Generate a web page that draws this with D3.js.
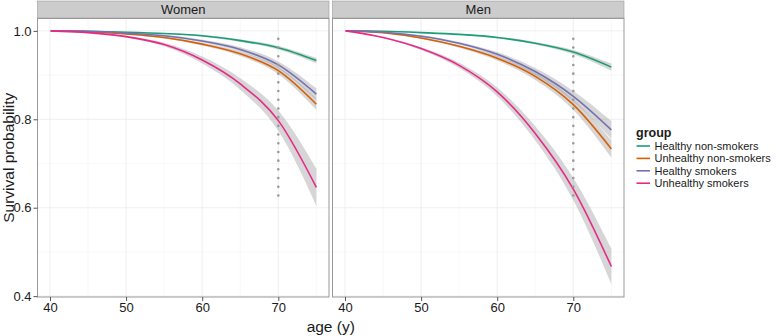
<!DOCTYPE html>
<html>
<head>
<meta charset="utf-8">
<script src="https://cdn.jsdelivr.net/npm/d3@7"></script>
<style>
  body { margin: 0; background: #fff; }
  text { font-family: "Liberation Sans", Arial, sans-serif; }
</style>
</head>
<body>
<div id="chart"></div>
<script>
const ages = [40.1, 45, 50, 55, 60, 65, 70, 75]

const groups = ['Healthy non-smokers', 'Unhealthy non-smokers', 'Healthy smokers', 'Unhealthy smokers']
const groupColors = ['#1b9e77', '#d95f02', '#7570b3', '#e7298a']
const panels = ['Women', 'Men']

// survival probability, one array per panel and group
const womenHealthyNon = [1, 0.999, 0.997, 0.994, 0.989, 0.978, 0.962, 0.933]
const womenUnhealthyNon = [1, 0.998, 0.993, 0.985, 0.970, 0.948, 0.910, 0.834]
const womenHealthySmk = [1, 0.999, 0.995, 0.989, 0.977, 0.958, 0.923, 0.857]
const womenUnhealthySmk = [1, 0.996, 0.987, 0.969, 0.934, 0.880, 0.797, 0.646]

const menHealthyNon = [1, 0.999, 0.996, 0.992, 0.985, 0.972, 0.952, 0.918]
const menUnhealthyNon = [1, 0.996, 0.984, 0.965, 0.938, 0.897, 0.833, 0.733]
const menHealthySmk = [1, 0.997, 0.988, 0.972, 0.947, 0.908, 0.852, 0.776]
const menUnhealthySmk = [1, 0.985, 0.960, 0.922, 0.862, 0.768, 0.642, 0.467]

// half width of the confidence band
const womenBand = [
  [0, 0, 0.001, 0.001, 0.002, 0.003, 0.004, 0.006],
  [0, 0, 0.001, 0.002, 0.003, 0.005, 0.008, 0.013],
  [0, 0, 0.001, 0.002, 0.003, 0.005, 0.008, 0.013],
  [0, 0.001, 0.002, 0.004, 0.008, 0.013, 0.023, 0.042]
]
const menBand = [
  [0, 0, 0.001, 0.001, 0.002, 0.003, 0.005, 0.008],
  [0, 0.001, 0.002, 0.003, 0.005, 0.008, 0.012, 0.02],
  [0, 0.001, 0.002, 0.003, 0.005, 0.008, 0.012, 0.02],
  [0, 0.001, 0.003, 0.006, 0.01, 0.016, 0.025, 0.04]
]

// reference line at age 70
const refAge = 70
const refRange = [0.621, 0.982]

const xTicks = [40, 50, 60, 70]
const xMinor = [45, 55, 65, 75]
const yTicks = [0.4, 0.6, 0.8, 1.0]
const yMinor = [0.5, 0.7, 0.9]

const panelData = [
  { name: panels[0], values: [womenHealthyNon, womenUnhealthyNon, womenHealthySmk, womenUnhealthySmk], band: womenBand },
  { name: panels[1], values: [menHealthyNon, menUnhealthyNon, menHealthySmk, menUnhealthySmk], band: menBand }
]

const width = 778
const height = 336
const stripH = 17
const pTop = 18.5
const pBottom = 297
const pw = 291.5
const panelX = [37.5, 332.5]

const svg = d3.select('#chart').append('svg')
  .attr('width', width).attr('height', height)

const x = d3.scaleLinear().domain([38.36, 76.66]).range([0, pw])
const y = d3.scaleLinear().domain([0.398, 1.028]).range([pBottom, pTop])

const line = d3.line().curve(d3.curveMonotoneX)
  .x(d => x(d[0])).y(d => y(d[1]))
const area = d3.area().curve(d3.curveMonotoneX)
  .x(d => x(d[0])).y0(d => y(d[1] - d[2])).y1(d => y(d[1] + d[2]))

svg.append('defs').append('clipPath').attr('id', 'clip')
  .append('rect').attr('x', 0).attr('y', pTop).attr('width', pw).attr('height', pBottom - pTop)

panelData.forEach(function (p, pi) {
  const g = svg.append('g').attr('transform', 'translate(' + panelX[pi] + ',0)')

  // strip
  g.append('rect').attr('x', 0).attr('y', pTop - stripH - 0.5).attr('width', pw).attr('height', stripH)
    .attr('fill', '#cccccc').attr('stroke', '#999').attr('stroke-width', 0.6)
  g.append('text').attr('x', pw / 2).attr('y', pTop - stripH / 2 + 4)
    .attr('text-anchor', 'middle').attr('font-size', 13).attr('fill', '#1a1a1a')
    .text(p.name)

  // background + grid
  g.append('rect').attr('x', 0).attr('y', pTop).attr('width', pw).attr('height', pBottom - pTop).attr('fill', '#fff')
  g.selectAll('.xminor').data(xMinor).enter().append('line')
    .attr('x1', d => x(d)).attr('x2', d => x(d)).attr('y1', pTop).attr('y2', pBottom)
    .attr('stroke', '#f4f4f4').attr('stroke-width', 0.6)
  g.selectAll('.yminor').data(yMinor).enter().append('line')
    .attr('y1', d => y(d)).attr('y2', d => y(d)).attr('x1', 0).attr('x2', pw)
    .attr('stroke', '#f4f4f4').attr('stroke-width', 0.6)
  g.selectAll('.xmajor').data(xTicks).enter().append('line')
    .attr('x1', d => x(d)).attr('x2', d => x(d)).attr('y1', pTop).attr('y2', pBottom)
    .attr('stroke', '#ebebeb').attr('stroke-width', 0.8)
  g.selectAll('.ymajor').data(yTicks).enter().append('line')
    .attr('y1', d => y(d)).attr('y2', d => y(d)).attr('x1', 0).attr('x2', pw)
    .attr('stroke', '#ebebeb').attr('stroke-width', 0.8)

  const plot = g.append('g').attr('clip-path', 'url(#clip)')

  // confidence ribbons
  p.values.forEach(function (vals, gi) {
    const pts = ages.map((a, i) => [a, vals[i], p.band[gi][i]])
    plot.append('path').attr('d', area(pts))
      .attr('fill', '#999').attr('fill-opacity', 0.4)
  })

  // fitted curves
  p.values.forEach(function (vals, gi) {
    const pts = ages.map((a, i) => [a, vals[i]])
    plot.append('path').attr('d', line(pts))
      .attr('fill', 'none').attr('stroke', groupColors[gi]).attr('stroke-width', 1.6)
  })

  // dotted reference line
  g.append('line').attr('x1', x(refAge)).attr('x2', x(refAge))
    .attr('y1', y(refRange[1])).attr('y2', y(refRange[0]))
    .attr('stroke', '#999').attr('stroke-width', 2.6)
    .attr('stroke-linecap', 'round').attr('stroke-dasharray', '0,8.7')

  // panel border
  g.append('rect').attr('x', 0).attr('y', pTop).attr('width', pw).attr('height', pBottom - pTop)
    .attr('fill', 'none').attr('stroke', '#999').attr('stroke-width', 1)

  // x axis
  const xa = g.append('g').attr('transform', 'translate(0,' + pBottom + ')')
    .call(d3.axisBottom(x).tickValues(xTicks).tickSize(4).tickPadding(2).tickFormat(d3.format('d')))
  xa.select('.domain').remove()
  xa.selectAll('line').attr('stroke', '#555')
  xa.selectAll('text').attr('font-size', 13).attr('fill', '#1a1a1a')
    .attr('font-family', '"Liberation Sans", Arial, sans-serif')

  if (pi === 0) {
    const ya = g.append('g')
      .call(d3.axisLeft(y).tickValues(yTicks).tickSize(4).tickPadding(2).tickFormat(d3.format('.1f')))
    ya.select('.domain').remove()
    ya.selectAll('line').attr('stroke', '#555')
    ya.selectAll('text').attr('font-size', 13).attr('fill', '#1a1a1a')
      .attr('font-family', '"Liberation Sans", Arial, sans-serif')
  }
})

// axis titles
svg.append('text').attr('x', (panelX[0] + panelX[1] + pw) / 2).attr('y', 331.5)
  .attr('text-anchor', 'middle').attr('font-size', 15.5).attr('fill', '#1a1a1a')
  .text('age (y)')
svg.append('text').attr('transform', 'translate(13.5,' + (pTop + pBottom) / 2 + ') rotate(-90)')
  .attr('text-anchor', 'middle').attr('font-size', 15.5).attr('fill', '#1a1a1a')
  .text('Survival probability')

// legend
const leg = svg.append('g').attr('transform', 'translate(636,0)')
leg.append('text').attr('x', 0).attr('y', 136.5)
  .attr('font-size', 12.5).attr('font-weight', 'bold').attr('fill', '#1a1a1a')
  .text('group')
const items = leg.selectAll('.item').data(groups).enter().append('g')
  .attr('transform', (d, i) => 'translate(0,' + (146 + i * 12.4) + ')')
items.append('line').attr('x1', 0.5).attr('x2', 14).attr('y1', 0).attr('y2', 0)
  .attr('stroke', (d, i) => groupColors[i]).attr('stroke-width', 1.6)
items.append('text').attr('x', 18.5).attr('y', 4)
  .attr('font-size', 11).attr('fill', '#1a1a1a')
  .text(d => d)
</script>
</body>
</html>
